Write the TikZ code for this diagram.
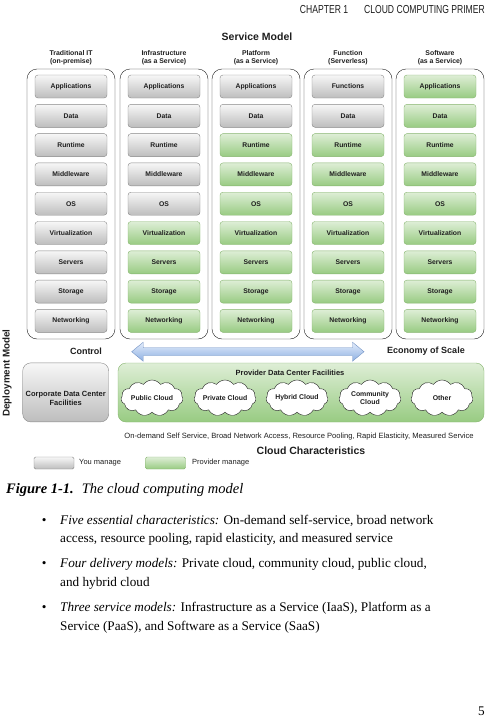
\documentclass[tikz,border=0pt]{standalone}
\usepackage{fontspec}
\setmainfont{Liberation Sans}
\newfontfamily\bookserif{Liberation Serif}
\usetikzlibrary{shapes.symbols, calc}

\definecolor{owntop}{HTML}{F7F7F7}
\definecolor{ownbot}{HTML}{BDBDBD}
\definecolor{ownline}{HTML}{878787}
\definecolor{provtop}{HTML}{DEEED6}
\definecolor{provbot}{HTML}{98CB82}
\definecolor{provline}{HTML}{86B46F}
\definecolor{scaletop}{HTML}{E2ECFB}
\definecolor{scalebot}{HTML}{8EB0E2}
\definecolor{scaleline}{HTML}{7393C4}
\definecolor{ink}{HTML}{1E1E1E}

\tikzset{
    layer/.style={minimum width=72pt, minimum height=23pt, rounded corners=3pt,
        font=\fontsize{6.8}{7.5}\selectfont\bfseries, text=ink},
    own/.style={layer, draw=ownline, top color=owntop, bottom color=ownbot},
    prov/.style={layer, draw=provline, top color=provtop, bottom color=provbot},
    colframe/.style={draw=ink, rounded corners=10pt, minimum width=88pt, minimum height=270pt},
    colhead/.style={align=center, font=\fontsize{6.9}{8.7}\selectfont\bfseries, text=ink},
    bigtitle/.style={font=\fontsize{10.5}{12}\selectfont\bfseries, text=ink},
    sidelabel/.style={font=\fontsize{9}{10}\selectfont\bfseries, text=ink},
    puff/.style={cloud, cloud puffs=11, cloud puff arc=110, cloud ignores aspect, draw=ink, fill=white,
        minimum width=62pt, minimum height=36pt, inner sep=0pt},
    cloudtxt/.style={align=center, font=\fontsize{6.9}{8.4}\selectfont\bfseries, text=ink},
    smalltxt/.style={font=\fontsize{7.5}{8.4}\selectfont, text=ink},
    bodyline/.style={anchor=base west, font=\bookserif\fontsize{13.2}{15}\selectfont, inner sep=0pt},
}

\begin{document}
\begin{tikzpicture}[x=1pt, y=-1pt]
    \useasboundingbox (0,0) rectangle (495,720);

    % running head
    \node[anchor=base east, inner sep=0pt, font=\fontsize{11.6}{13}\selectfont, text=ink] (runhead) at (485,13.3)
        {\scalebox{0.74}[1]{CHAPTER 1\hspace{21.6pt}CLOUD COMPUTING PRIMER}};

    \node[bigtitle] (svc) at (257,37) {Service Model};

    % service model columns
    \foreach \cx/\ng/\col/\toplbl/\head in {
        71/9/1/Applications/{Traditional IT\\(on-premise)},
        164/5/2/Applications/{Infrastructure\\(as a Service)},
        256/2/3/Applications/{Platform\\(as a Service)},
        348/2/4/Functions/{Function\\(Serverless)},
        440/0/5/Applications/{Software\\(as a Service)}} {
        \node[colhead] (h\col) at (\cx,57.7) {\head};
        \node[colframe] (col\col) at (\cx,204) {};
        \foreach \lbl [count=\r] in {\toplbl, Data, Runtime, Middleware, OS,
                Virtualization, Servers, Storage, Networking} {
            \pgfmathsetmacro{\ry}{86.5+29.3*(\r-1)}
            \ifnum\r>\ng \def\kind{prov}\else \def\kind{own}\fi
            \node[\kind] (b\col-\r) at (\cx,\ry) {\lbl};
        }
    }

    \node[sidelabel] (ctrl) at (86,351) {Control};
    \node[sidelabel] (econ) at (426,351) {Economy of Scale};

    % control <-> economy of scale arrow
    \pgfmathsetmacro{\shaft}{4}
    \pgfmathsetmacro{\head}{9.5}
    \pgfmathsetmacro{\hlen}{11.5}
    \coordinate (aL) at (131.7,351.7);
    \coordinate (aR) at (364,351.7);
    \path[draw=scaleline, top color=scaletop, bottom color=scalebot]
        (aL) -- ($(aL)+(\hlen,-\head)$) -- ($(aL)+(\hlen,-\shaft)$)
        -- ($(aR)+(-\hlen,-\shaft)$) -- ($(aR)+(-\hlen,-\head)$) -- (aR)
        -- ($(aR)+(-\hlen,\head)$) -- ($(aR)+(-\hlen,\shaft)$)
        -- ($(aL)+(\hlen,\shaft)$) -- ($(aL)+(\hlen,\head)$) -- cycle;

    % deployment model
    \node[bigtitle, rotate=90, font=\fontsize{9.8}{11}\selectfont\bfseries] (dep) at (7,373) {Deployment Model};

    \node[draw=ownline, top color=owntop, bottom color=ownbot, rounded corners=8pt,
        minimum width=86pt, minimum height=59pt] (corp) at (65.7,392.4) {};
    \node[align=center, font=\fontsize{7.5}{8.4}\selectfont\bfseries, text=ink] (corptxt) at (65.7,398.5)
        {Corporate Data Center\\Facilities};

    \node[draw=provline, top color=provtop, bottom color=provbot, rounded corners=8pt,
        minimum width=366pt, minimum height=59pt] (provdc) at (301,392.5) {};
    \node[font=\fontsize{7.5}{8.4}\selectfont\bfseries, text=ink] (provtxt) at (290,373)
        {Provider Data Center Facilities};

    \node[puff, label={[cloudtxt]center:{Public Cloud}}] (public) at (152,398) {};
    \node[puff, label={[cloudtxt]center:{Private Cloud}}] (private) at (225,398) {};
    \node[puff, label={[cloudtxt]center:{Hybrid Cloud}}] (hybrid) at (297,398) {};
    \node[puff, label={[cloudtxt]center:{Community\\Cloud}}] (community) at (370,398) {};
    \node[puff, label={[cloudtxt]center:{Other}}] (other) at (442,398) {};

    \node[font=\fontsize{7.6}{8}\selectfont, text=ink] (chars) at (299,436.7)
        {On-demand Self Service, Broad Network Access, Resource Pooling, Rapid Elasticity, Measured Service};
    \node[bigtitle] (cchar) at (311,451) {Cloud Characteristics};

    % legend
    \node[draw=ownline, top color=owntop, bottom color=ownbot, minimum width=40pt, minimum height=12pt,
        rounded corners=1.5pt] (keyown) at (54,463) {};
    \node[smalltxt, anchor=west, inner sep=0pt] (keyowntxt) at (79,463) {You manage};
    \node[draw=provline, top color=provtop, bottom color=provbot, minimum width=40pt, minimum height=12pt,
        rounded corners=1.5pt] (keyprov) at (165.5,463) {};
    \node[smalltxt, anchor=west, inner sep=0pt] (keyprovtxt) at (192,463) {Provider manage};

    % caption and text
    \node[bodyline, font=\bookserif\fontsize{14.5}{16}\selectfont\itshape] (cap) at (6,493.3)
        {\bfseries Figure 1-1.\hspace{8pt}\mdseries The cloud computing model};

    \foreach \by in {524.3, 567.3, 611.7}
        \node[bodyline] at (41.7,\by) {\textbullet};
    \node[bodyline] (l1) at (60,524.3) {\itshape Five essential characteristics:\upshape{} On-demand self-service, broad network};
    \node[bodyline] (l2) at (60,542.7) {access, resource pooling, rapid elasticity, and measured service};
    \node[bodyline] (l3) at (60,567.3) {\itshape Four delivery models:\upshape{} Private cloud, community cloud, public cloud,};
    \node[bodyline] (l4) at (60,586) {and hybrid cloud};
    \node[bodyline] (l5) at (60,611.7) {\itshape Three service models:\upshape{} Infrastructure as a Service (IaaS), Platform as a};
    \node[bodyline] (l6) at (60,630) {Service (PaaS), and Software as a Service (SaaS)};

    \node[bodyline, anchor=base east] (pageno) at (485,715) {5};
\end{tikzpicture}
\end{document}
